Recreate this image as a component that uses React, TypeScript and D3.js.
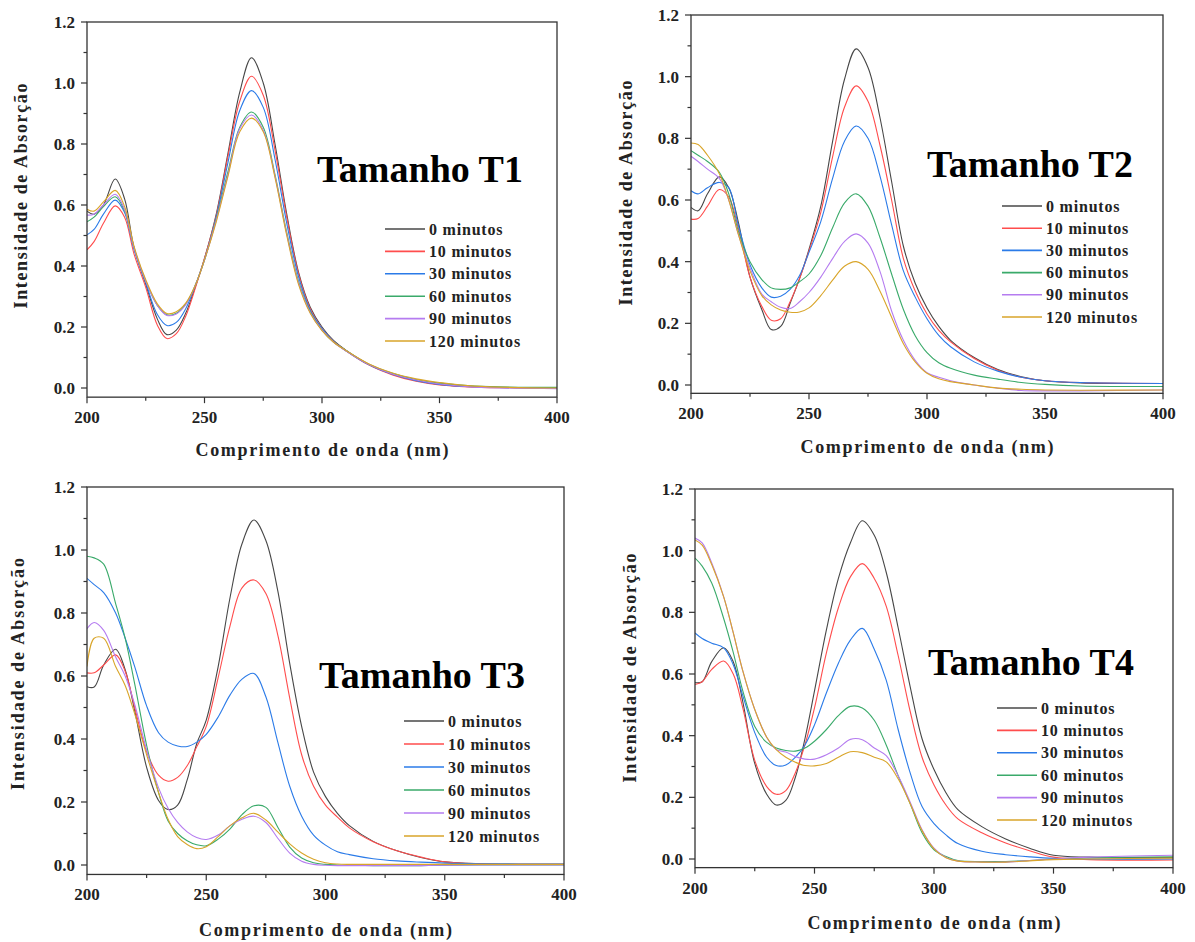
import React from "react";
import * as d3 from "d3";

// Wavelength grid (nm)
const WL = [200, 203, 207, 212, 216, 220, 225, 230, 234, 238, 242, 246, 250, 255, 260, 265, 270, 275, 280, 285, 290, 295, 300, 305, 310, 320, 330, 340, 350, 365, 400];

const LABELS = ["0 minutos", "10 minutos", "30 minutos", "60 minutos", "90 minutos", "120 minutos"];
const COLORS = ["#474747", "#ff4d4d", "#2b7be8", "#3aaa6a", "#b57cf0", "#d9a52a"];

const X_TICKS = [200, 250, 300, 350, 400];
const X_MINOR = [225, 275, 325, 375];
const Y_TICKS = [0, 0.2, 0.4, 0.6, 0.8, 1.0, 1.2];
const Y_MINOR = [0.1, 0.3, 0.5, 0.7, 0.9, 1.1];

// Tamanho T1
const T1_0 = [.58, .57, .60, .685, .62, .46, .34, .225, .175, .19, .245, .33, .425, .57, .77, .97, 1.083, 1.0, .80, .57, .38, .265, .20, .155, .125, .077, .045, .025, .012, .004, 0];
const T1_10 = [.453, .48, .54, .597, .56, .44, .33, .205, .162, .178, .235, .325, .425, .565, .76, .94, 1.022, .96, .78, .56, .375, .26, .195, .152, .123, .075, .043, .022, .01, .003, 0];
const T1_30 = [.502, .52, .57, .616, .575, .455, .345, .24, .205, .215, .26, .335, .42, .56, .74, .91, .975, .92, .75, .54, .365, .255, .195, .152, .123, .076, .045, .024, .012, .004, 0];
const T1_60 = [.545, .56, .595, .627, .58, .46, .35, .27, .24, .245, .275, .335, .42, .555, .71, .855, .905, .855, .70, .51, .35, .25, .19, .15, .124, .078, .048, .028, .016, .006, .002];
const T1_90 = [.567, .57, .60, .635, .585, .46, .35, .27, .238, .243, .273, .335, .42, .55, .70, .85, .895, .845, .695, .505, .345, .247, .19, .15, .123, .077, .046, .026, .013, .003, -.002];
const T1_120 = [.586, .58, .61, .648, .595, .465, .355, .275, .244, .25, .278, .335, .42, .545, .695, .84, .885, .84, .69, .50, .34, .245, .188, .15, .124, .079, .049, .03, .018, .006, 0];

// Tamanho T2
const T2_0 = [.576, .565, .62, .675, .64, .53, .35, .245, .18, .19, .265, .345, .44, .58, .79, .99, 1.09, 1.03, .87, .66, .45, .33, .25, .19, .145, .089, .05, .027, .014, .007, .005];
const T2_10 = [.538, .54, .58, .634, .61, .51, .35, .255, .21, .215, .27, .345, .435, .56, .74, .90, .97, .92, .78, .60, .41, .305, .23, .177, .14, .086, .048, .025, .014, .008, .005];
const T2_30 = [.63, .62, .64, .657, .64, .52, .39, .315, .285, .288, .31, .355, .43, .53, .67, .79, .84, .80, .68, .52, .37, .285, .215, .161, .124, .075, .045, .025, .014, .008, .005];
const T2_60 = [.76, .745, .725, .69, .62, .50, .40, .342, .315, .31, .315, .335, .36, .42, .51, .59, .62, .58, .48, .36, .245, .16, .105, .072, .054, .032, .019, .008, .002, -.003, -.005];
const T2_90 = [.742, .725, .70, .67, .60, .49, .38, .295, .27, .252, .248, .27, .30, .35, .41, .465, .49, .46, .37, .24, .145, .08, .04, .025, .014, 0, -.01, -.018, -.019, -.019, -.016];
const T2_120 = [.785, .78, .745, .685, .60, .49, .37, .29, .26, .243, .236, .237, .25, .29, .34, .385, .40, .375, .306, .22, .134, .075, .038, .02, .011, 0, -.01, -.014, -.016, -.017, -.016];

// Tamanho T3
const T3_0 = [.566, .565, .635, .685, .62, .49, .31, .205, .176, .19, .27, .385, .46, .63, .85, 1.02, 1.095, 1.03, .87, .64, .44, .295, .217, .164, .125, .075, .045, .024, .01, .004, .002];
const T3_10 = [.61, .61, .635, .667, .615, .50, .36, .285, .266, .278, .315, .375, .44, .595, .76, .88, .905, .862, .73, .53, .35, .25, .19, .152, .118, .074, .045, .025, .01, .004, .002];
const T3_30 = [.91, .89, .865, .80, .72, .63, .505, .42, .39, .378, .376, .39, .415, .47, .54, .59, .608, .534, .39, .25, .155, .095, .063, .042, .033, .02, .013, .009, .006, .004, .003];
const T3_60 = [.98, .975, .955, .83, .72, .575, .38, .23, .14, .10, .077, .064, .061, .082, .115, .16, .188, .183, .12, .057, .022, .007, .002, 0, -.001, -.002, -.002, -.002, -.001, 0, 0];
const T3_90 = [.75, .77, .745, .66, .60, .51, .365, .245, .18, .135, .105, .087, .081, .095, .125, .145, .155, .135, .085, .038, .012, .002, -.001, -.002, -.002, -.002, -.002, -.002, -.001, 0, 0];
const T3_120 = [.63, .72, .72, .63, .57, .48, .35, .23, .145, .09, .065, .052, .058, .09, .125, .15, .164, .143, .105, .067, .038, .018, .007, .003, .002, .002, .002, .002, .002, .002, .002];

// Tamanho T4
const T4_0 = [.572, .575, .64, .685, .64, .51, .31, .21, .175, .19, .265, .39, .545, .744, .91, 1.025, 1.097, 1.05, .93, .75, .56, .39, .29, .215, .16, .105, .065, .035, .012, .006, .005];
const T4_10 = [.566, .575, .615, .642, .60, .49, .32, .235, .21, .222, .28, .37, .49, .669, .815, .915, .958, .91, .82, .66, .48, .33, .24, .175, .13, .085, .052, .027, .006, -.002, -.003];
const T4_30 = [.733, .715, .70, .685, .63, .53, .41, .33, .303, .305, .33, .37, .435, .539, .635, .71, .748, .68, .58, .42, .28, .17, .115, .078, .05, .025, .014, .007, .002, 0, 0];
const T4_60 = [.976, .95, .895, .78, .67, .545, .43, .378, .36, .352, .35, .36, .382, .42, .465, .495, .49, .45, .37, .27, .18, .085, .03, .008, -.005, -.008, -.008, -.005, 0, .004, .007];
const T4_90 = [1.041, 1.025, .96, .85, .734, .61, .485, .395, .355, .347, .332, .324, .324, .338, .36, .388, .387, .36, .335, .27, .185, .095, .035, .005, -.007, -.01, -.01, -.005, 0, .006, .012];
const T4_120 = [1.035, 1.018, .955, .85, .734, .61, .485, .395, .355, .33, .314, .303, .302, .31, .33, .348, .345, .33, .315, .26, .18, .092, .033, .004, -.007, -.01, -.01, -.006, -.002, 0, .003];

const TITLES = ["Tamanho T1", "Tamanho T2", "Tamanho T3", "Tamanho T4"];
const DATA = [
  [T1_0, T1_10, T1_30, T1_60, T1_90, T1_120],
  [T2_0, T2_10, T2_30, T2_60, T2_90, T2_120],
  [T3_0, T3_10, T3_30, T3_60, T3_90, T3_120],
  [T4_0, T4_10, T4_30, T4_60, T4_90, T4_120],
];

// Layout (pixels)
const LAYOUT = [
  { x0: 87, x1: 557, yTop: 22, yZero: 388, yMin: -0.03, titleX: 420, titleY: 182, legX: 385, legY: 229, legDy: 22.4, xTitleY: 456, yTitleX: 27, yTitleY: 196, yTitleLen: 225 },
  { x0: 691, x1: 1163, yTop: 15, yZero: 385, yMin: -0.027, titleX: 1030, titleY: 177, legX: 1002, legY: 206, legDy: 22.2, xTitleY: 453, yTitleX: 632, yTitleY: 193, yTitleLen: 225 },
  { x0: 87, x1: 564, yTop: 487, yZero: 865, yMin: -0.03, titleX: 422, titleY: 688, legX: 404, legY: 721, legDy: 23, xTitleY: 936, yTitleX: 24, yTitleY: 674, yTitleLen: 232 },
  { x0: 695, x1: 1173, yTop: 489, yZero: 859, yMin: -0.028, titleX: 1031, titleY: 675, legX: 997, legY: 708, legDy: 22.4, xTitleY: 929, yTitleX: 636, yTitleY: 668, yTitleLen: 229 },
];

const FONT = "'Liberation Serif', 'Times New Roman', serif";

function Panel({ idx }: { idx: number }) {
  const L = LAYOUT[idx];
  const series = DATA[idx];
  const x = d3.scaleLinear().domain([200, 400]).range([L.x0, L.x1]);
  const y = d3.scaleLinear().domain([0, 1.2]).range([L.yZero, L.yTop]);
  const bottom = y(L.yMin);
  const line = d3
    .line<number>()
    .x((_, i) => x(WL[i]))
    .y((v) => y(v))
    .curve(d3.curveCatmullRom.alpha(0.5));
  const clipId = `clip${idx}`;
  const fmt = d3.format(".1f");
  const axisColor = "#333";
  return (
    <g>
      <defs>
        <clipPath id={clipId}>
          <rect x={L.x0} y={L.yTop} width={L.x1 - L.x0} height={bottom - L.yTop} />
        </clipPath>
      </defs>
      <g clipPath={`url(#${clipId})`}>
        {series.map((s, i) => (
          <path key={i} d={line(s) || ""} fill="none" stroke={COLORS[i]} strokeWidth={1.1} />
        ))}
      </g>
      <rect x={L.x0} y={L.yTop} width={L.x1 - L.x0} height={bottom - L.yTop} fill="none" stroke={axisColor} strokeWidth={1.3} />
      {X_TICKS.map((t) => (
        <g key={"xt" + t}>
          <line x1={x(t)} x2={x(t)} y1={bottom} y2={bottom + 6} stroke={axisColor} strokeWidth={1.2} />
          <text x={x(t)} y={bottom + 26} textAnchor="middle" fontFamily={FONT} fontWeight="bold" fontSize={17} fill="#222">
            {t}
          </text>
        </g>
      ))}
      {X_MINOR.map((t) => (
        <line key={"xm" + t} x1={x(t)} x2={x(t)} y1={bottom} y2={bottom + 3.5} stroke={axisColor} strokeWidth={1.2} />
      ))}
      {Y_TICKS.map((t) => (
        <g key={"yt" + t}>
          <line x1={L.x0 - 6} x2={L.x0} y1={y(t)} y2={y(t)} stroke={axisColor} strokeWidth={1.2} />
          <text x={L.x0 - 12} y={y(t) + 6} textAnchor="end" fontFamily={FONT} fontWeight="bold" fontSize={17} fill="#222">
            {fmt(t)}
          </text>
        </g>
      ))}
      {Y_MINOR.map((t) => (
        <line key={"ym" + t} x1={L.x0 - 3.5} x2={L.x0} y1={y(t)} y2={y(t)} stroke={axisColor} strokeWidth={1.2} />
      ))}
      <text x={(L.x0 + L.x1) / 2} y={L.xTitleY} textAnchor="middle" fontFamily={FONT} fontWeight="bold" fontSize={18} fill="#222" textLength={253} lengthAdjust="spacing">
        Comprimento de onda (nm)
      </text>
      <text
        transform={`translate(${L.yTitleX},${L.yTitleY}) rotate(-90)`}
        textAnchor="middle"
        fontFamily={FONT}
        fontWeight="bold"
        fontSize={18}
        fill="#222"
        textLength={L.yTitleLen}
        lengthAdjust="spacing"
      >
        Intensidade de Absorção
      </text>
      <text x={L.titleX} y={L.titleY} textAnchor="middle" fontFamily={FONT} fontWeight="bold" fontSize={38} fill="#000">
        {TITLES[idx]}
      </text>
      {LABELS.map((lab, i) => {
        const ly = L.legY + i * L.legDy;
        return (
          <g key={lab}>
            <line x1={L.legX} x2={L.legX + 40} y1={ly} y2={ly} stroke={COLORS[i]} strokeWidth={1.6} />
            <text x={L.legX + 44} y={ly + 5.5} fontFamily={FONT} fontWeight="bold" fontSize={16} fill="#222" letterSpacing={0.8}>
              {lab}
            </text>
          </g>
        );
      })}
    </g>
  );
}

export default function App() {
  return (
    <svg width={1195} height={942} style={{ position: "absolute", left: 0, top: 0, background: "#fff" }}>
      <rect width={1195} height={942} fill="#fff" />
      {[0, 1, 2, 3].map((i) => (
        <Panel key={i} idx={i} />
      ))}
    </svg>
  );
}
